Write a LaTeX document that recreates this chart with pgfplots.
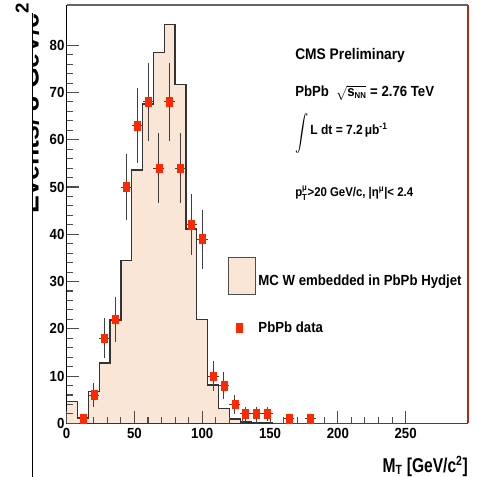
\documentclass[border=0pt]{standalone}
\usepackage{fontspec}
\setmainfont{Liberation Sans}
\usepackage{graphicx}
\usepackage{pgfplots}
\pgfplotsset{compat=1.18}
\definecolor{mcfill}{RGB}{250,230,214}
\definecolor{datared}{RGB}{255,40,0}
\definecolor{framered}{RGB}{175,45,25}
\newcommand\tf[1]{\scalebox{0.9}[1]{#1}}
\newcommand\sm{\fontsize{6.5}{7}\selectfont}

\begin{document}
\begin{tikzpicture}
\begin{axis}[
  scale only axis, width=301pt, height=313.7pt,
  xmin=0, xmax=296, ymin=0, ymax=88.5,
  axis line style={draw=none},
  axis on top,
  tick align=inside, xtick pos=bottom, ytick pos=left,
  xtick={0,50,...,250}, ytick={0,10,...,80},
  minor x tick num=4, minor y tick num=4,
  major tick length=9pt, minor tick length=5pt,
  tick style={black!70, line width=0.8pt},
  /pgf/number format/assume math mode=true,
  ticklabel style={font=\fontsize{11}{13}\selectfont\bfseries},
  xticklabel={\tf{\pgfmathprintnumber{\tick}}},
  yticklabel={\tf{\pgfmathprintnumber{\tick}}},
  yticklabel style={inner xsep=1.5pt},
  clip=false,
  legend cell align=left,
  legend style={at={(axis cs:118.6,35.3)}, anchor=north west, draw=none, fill=none,
    inner sep=0pt, row sep=18pt,
    font=\fontsize{11}{13}\selectfont\bfseries,
    /tikz/every even column/.append style={column sep=4pt}},
]
\addplot[fill=mcfill, draw=black!80, line width=1pt, const plot mark left,
  legend image code/.code={\draw[fill=mcfill, draw=black!70, line width=0.8pt] (0pt,-9.9pt) rectangle (20.25pt,17.9pt);}]
  coordinates {(0,4.6) (8,1.1) (16,6.7) (24,12.8) (32,21.9) (40,34.4) (48,53.6) (56,67.6)
   (64,78.5) (72,84.4) (80,71.7) (88,41.1) (96,22.0) (104,8.1) (112,3.2) (120,0.9)
   (128,0.3) (136,0.2) (144,0.2) (152,0.2)} \closedcycle;
\addlegendentry{\tf{MC W embedded in PbPb Hydjet}}
\draw[black, line width=1.2pt] (axis cs:0,0) -- (axis cs:0,88.5);
\draw[black!60, line width=1pt] (axis cs:0,88.5) -- (axis cs:296,88.5);
\draw[framered, line width=1pt] (axis cs:296,0) -- (axis cs:296,88.5);
\draw[red!90!black, line width=1.1pt] (axis cs:152,0) -- (axis cs:296,0);
\addplot[only marks, mark=square*, mark size=3.2pt,
  mark options={xscale=0.7, fill=datared, draw=datared},
  error bars/.cd, x dir=both, x explicit, y dir=both, y explicit,
  error mark=none, error bar style={black!75, line width=0.7pt}]
  coordinates {
  (12,1) +- (4,1)
  (20,6) +- (4,2.45)
  (28,18) +- (4,4.24)
  (36,22) +- (4,4.69)
  (44,50) +- (4,7.07)
  (52,63) +- (4,7.94)
  (60,68) +- (4,8.25)
  (68,54) +- (4,7.35)
  (76,68) +- (4,8.25)
  (84,54) +- (4,7.35)
  (92,42) +- (4,6.48)
  (100,39) +- (4,6.24)
  (108,10) +- (4,3.16)
  (116,8) +- (4,2.83)
  (124,4) +- (4,2)
  (132,2) +- (4,1.41)
  (140,2) +- (4,1.41)
  (148,2) +- (4,1.41)
  (164,1) +- (4,1)
  (180,1) +- (4,1)
  };
\addlegendimage{legend image code/.code={\draw[draw=none] plot[mark=square*, mark size=3.2pt, mark options={xscale=0.7, fill=datared, draw=datared}] coordinates {(10.1pt,4pt)};}}
\addlegendentry{\tf{PbPb data}}
\node[anchor=west, inner xsep=0pt, font=\fontsize{11.5}{13}\selectfont\bfseries] at (axis cs:168.4,77.9) {\tf{CMS Preliminary}};
\node[anchor=west, inner xsep=0pt, font=\fontsize{11}{13}\selectfont\bfseries] at (axis cs:168.4,69.9) {\tf{PbPb\ \ $\sqrt{\mbox{s}_{\mbox{\sm NN}}}$ = 2.76 TeV}};
\node[anchor=west, inner xsep=0pt, font=\fontsize{10}{12}\selectfont\bfseries] at (axis cs:168.4,61.4) {\tf{\raisebox{-0.5ex}{\scalebox{1.1}[1.35]{$\displaystyle\int$}}\,L dt = 7.2\,μb\textsuperscript{-1}}};
\node[anchor=west, inner xsep=0pt, font=\fontsize{9.5}{12}\selectfont\bfseries] at (axis cs:168.4,48.7) {\tf{p$^{\mbox{\sm μ}}_{\mbox{\sm T}}$>20 GeV/c, |η$^{\mbox{\sm μ}}$|< 2.4}};
\node[anchor=base east, font=\fontsize{15}{17}\selectfont\bfseries, inner sep=0pt] at (axis cs:296,-10.3) {\scalebox{0.78}[1]{M$_{\mbox{\fontsize{10}{11}\selectfont T}}$ [GeV/c$^{\mbox{\fontsize{10}{11}\selectfont 2}}$]}};
\end{axis}
\node[rotate=90, anchor=base east, inner sep=0pt, font=\fontsize{20}{22}\selectfont\bfseries] at (-21pt,316pt) {Events/ 8 GeV/c\textsuperscript{2}};
\fill[white] (-52pt,-41pt) rectangle (-25.5pt,307.7pt);
\draw[black, line width=1pt] (-25.5pt,-41pt) -- (-25.5pt,307.7pt);
\pgfresetboundingbox
\useasboundingbox (-50pt,-39.5pt) rectangle (309.25pt,317.5pt);
\end{tikzpicture}
\end{document}
